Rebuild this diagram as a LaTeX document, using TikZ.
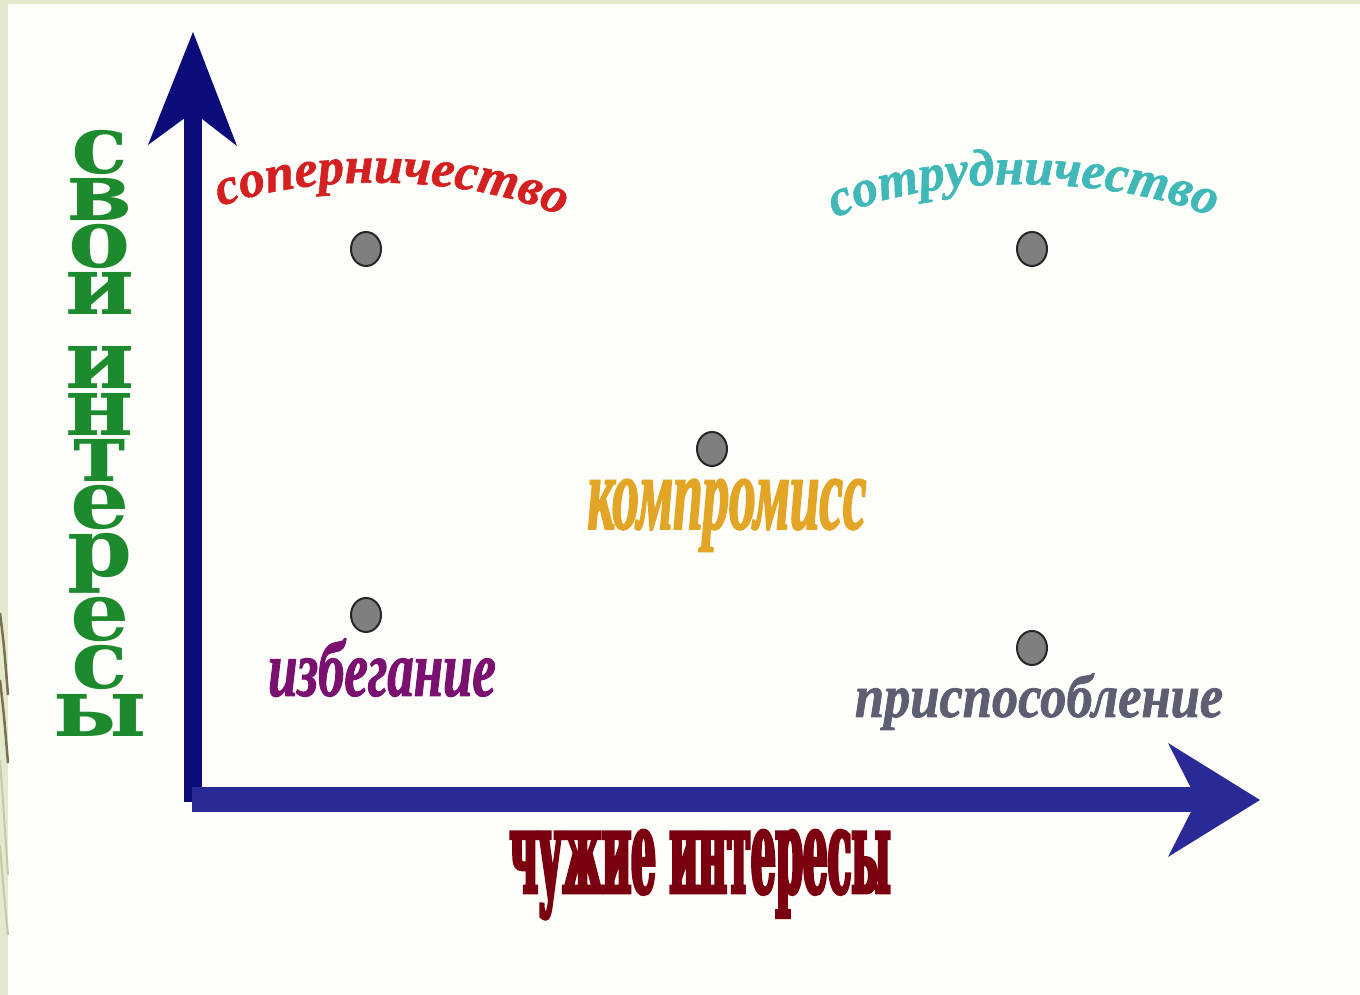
\documentclass[tikz,border=0pt]{standalone}
\usepackage{fontspec}
\usetikzlibrary{decorations.text,shapes.geometric}
\newfontfamily\fsop[FakeBold=1.2]{Liberation Serif}
\newfontfamily\fsot[FakeBold=1.2]{Liberation Serif}
\newfontfamily\fkomp[FakeStretch=0.5,FakeBold=1.5]{Liberation Serif}
\newfontfamily\fizb[FakeStretch=0.66,FakeBold=1.2]{Liberation Serif}
\newfontfamily\fpri[FakeStretch=0.86,FakeBold=1.2]{Liberation Serif}
\newfontfamily\fsvoi[FakeStretch=1.15]{DejaVu Serif}
\newfontfamily\fchuz[FakeStretch=0.33,FakeBold=2.5]{DejaVu Serif}
\definecolor{bg}{HTML}{FDFDFA}
\definecolor{strip}{HTML}{E3E9CD}
\definecolor{olive}{HTML}{7A7050}
\definecolor{lolive}{HTML}{C6C8A6}
\definecolor{yaxis}{HTML}{0B0B7A}
\definecolor{xaxis}{HTML}{2A2A96}
\definecolor{csop}{HTML}{D42020}
\definecolor{csot}{HTML}{40B8B8}
\definecolor{ckomp}{HTML}{E3A526}
\definecolor{cizb}{HTML}{7A1070}
\definecolor{cpri}{HTML}{5E5E72}
\definecolor{csvoi}{HTML}{1E8A2E}
\definecolor{cchuz}{HTML}{7A0010}
\definecolor{dotfill}{HTML}{7F7F7F}
\tikzset{
  dot/.style={ellipse,draw=black!85,line width=2pt,fill=dotfill,minimum width=30pt,minimum height=34pt,inner sep=0pt},
  arcLabel/.style={decorate,decoration={text along path,text align=center,text={#1}}},
  wordLabel/.style={anchor=base,inner sep=0pt}
}
\begin{document}
\begin{tikzpicture}[x=1pt,y=1pt]
\useasboundingbox (0,0) rectangle (1360,995);
% background
\fill[bg] (0,0) rectangle (1360,995);
\fill[strip] (0,0) rectangle (8,995);
\fill[strip] (0,991) rectangle (1360,995);
\draw[olive,line width=2.5pt] (0,382) .. controls (4,350) .. (8,300);
\draw[olive,line width=2.5pt] (0,315) .. controls (4,280) .. (8,232);
\draw[lolive,line width=2pt] (0,235) .. controls (4,180) .. (8,120);
\draw[lolive,line width=2pt] (0,150) .. controls (4,100) .. (8,60);
% axes
\coordinate (O) at (193,193);
\fill[yaxis] (184,193) rectangle (202,885);
\fill[yaxis] (193,963) -- (237,849) -- (193,883) -- (148,850) -- cycle;
\fill[xaxis] (192,183) rectangle (1200,208);
\fill[xaxis] (1260,195) -- (1168,252) -- (1197,195) -- (1168,138) -- cycle;
% dots
\node[dot] (sop) at (366,746) {};
\node[dot] (sot) at (1032,746) {};
\node[dot] (komp) at (712,546) {};
\node[dot] (izb) at (366,380) {};
\node[dot] (pri) at (1032,347) {};
% arched labels
\path[arcLabel={|\fsop\fontsize{52}{52}\selectfont\bfseries\itshape\color{csop}|соперничество}]
  (212,785) .. controls (300,823) and (470,823) .. (570,775);
\path[arcLabel={|\fsot\fontsize{52}{52}\selectfont\bfseries\itshape\color{csot}|сотрудничество}]
  (828,773) .. controls (920,823) and (1110,823) .. (1220,775);
% straight labels
\node[wordLabel,text=ckomp,font=\fkomp\bfseries\itshape\fontsize{106}{106}\selectfont] (kompL) at (727,466) {компромисс};
\node[wordLabel,text=cizb,font=\fizb\bfseries\itshape\fontsize{80}{80}\selectfont] (izbL) at (382,299) {избегание};
\node[wordLabel,text=cpri,font=\fpri\bfseries\itshape\fontsize{61}{61}\selectfont] (priL) at (1039,278) {приспособление};
% axis labels
\node[anchor=north,inner sep=0pt,text=csvoi,font=\fsvoi\bfseries\fontsize{81}{81}\selectfont] (svoi) at (100,865)
  {\shortstack{с\\[1pt]в\\[1pt]о\\[1pt]и\\[29pt]и\\[1pt]н\\[1pt]т\\[1pt]е\\[1pt]р\\[1pt]е\\[1pt]с\\[1pt]ы}};
\node[wordLabel,text=cchuz,font=\fchuz\bfseries\fontsize{118}{118}\selectfont] (chuz) at (700,102)
  {чужие интересы};
\end{tikzpicture}
\end{document}
